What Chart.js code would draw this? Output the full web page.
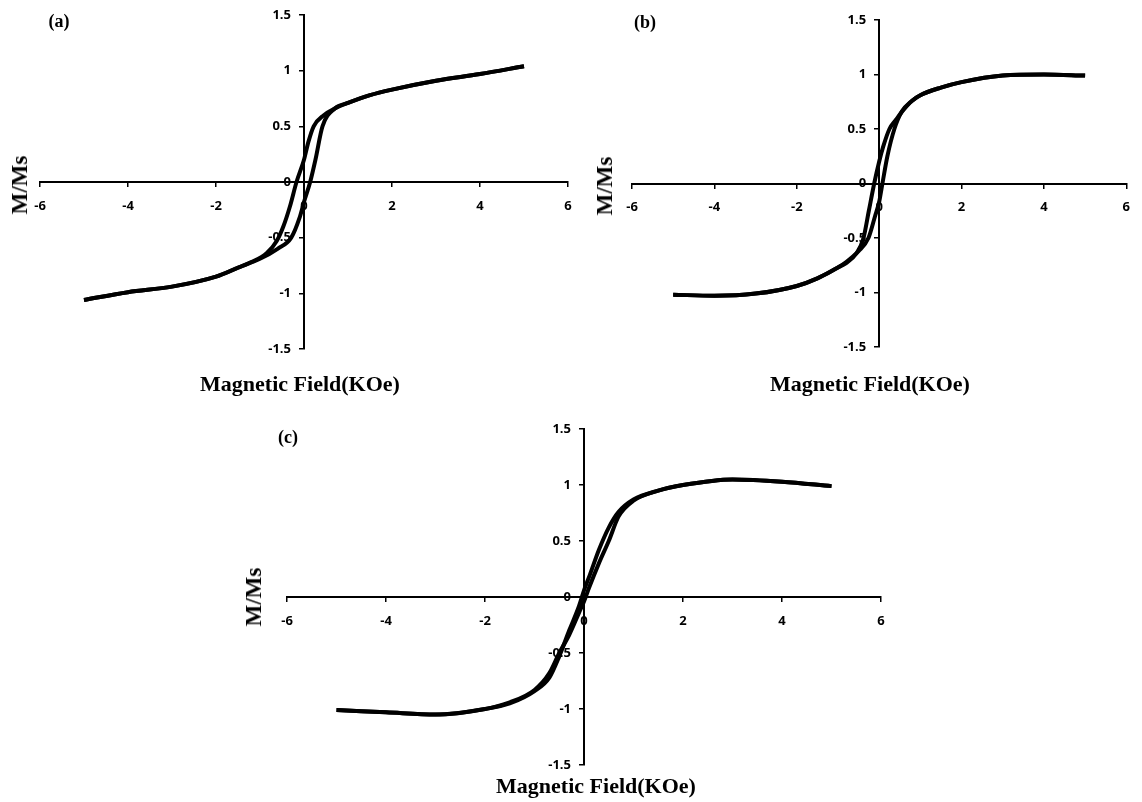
<!DOCTYPE html>
<html>
<head>
<meta charset="utf-8">
<script src="https://cdn.jsdelivr.net/npm/chart.js@4.4.0/dist/chart.umd.min.js"></script>
<style>
html, body { margin: 0; padding: 0; background: #fff; }
#wrap { position: relative; width: 1142px; height: 802px; overflow: hidden; }
canvas { position: absolute; left: 0; top: 0; }
.lbl {
    position: absolute;
    font-family: "Liberation Serif", "Times New Roman", serif;
    font-weight: bold;
    color: #000;
    white-space: nowrap;
    transform: translate(-50%, -50%);
}
.rot { transform: translate(-50%, -50%) rotate(-90deg); }
</style>
</head>
<body>
<div id="wrap">
    <canvas id="chartA" width="1142" height="802"></canvas>
    <canvas id="chartB" width="1142" height="802"></canvas>
    <canvas id="chartC" width="1142" height="802"></canvas>

    <div class="lbl" style="left:59px; top:21px; font-size:18px">(a)</div>
    <div class="lbl" style="left:645px; top:22px; font-size:18px">(b)</div>
    <div class="lbl" style="left:288px; top:437px; font-size:18px">(c)</div>

    <div class="lbl" style="left:300px; top:384px; font-size:22px">Magnetic Field(KOe)</div>
    <div class="lbl" style="left:870px; top:384px; font-size:22px">Magnetic Field(KOe)</div>
    <div class="lbl" style="left:596px; top:786px; font-size:22px">Magnetic Field(KOe)</div>

    <div class="lbl rot" style="left:20px; top:185px; font-size:23px">M/Ms</div>
    <div class="lbl rot" style="left:605px; top:186px; font-size:23px">M/Ms</div>
    <div class="lbl rot" style="left:254px; top:597px; font-size:23px">M/Ms</div>
</div>

<script>
// (a) field (kOe) and M/Ms, descending branch then ascending branch
const aDownH = [5, 4, 3, 2, 1.5, 1, 0.7, 0.45, 0.22, 0.1, 0, -0.17, -0.32, -0.47, -0.62, -0.85, -1.2, -1.5, -2, -3, -4, -5];
const aDownM = [1.04, 0.97, 0.91, 0.83, 0.78, 0.71, 0.66, 0.6, 0.5, 0.36, 0.2, 0, -0.22, -0.4, -0.53, -0.64, -0.72, -0.77, -0.85, -0.94, -0.99, -1.06];
const aUpH = [-5, -4, -3, -2, -1.5, -1, -0.6, -0.29, -0.1, 0, 0.14, 0.26, 0.42, 0.7, 1, 1.5, 2, 3, 4, 5];
const aUpM = [-1.06, -0.99, -0.94, -0.85, -0.77, -0.69, -0.6, -0.5, -0.32, -0.18, 0, 0.2, 0.5, 0.66, 0.71, 0.78, 0.83, 0.91, 0.97, 1.04];

// (b)
const bDownH = [5, 4, 3, 2, 1.5, 1, 0.8, 0.6, 0.4, 0.25, 0.1, 0, -0.12, -0.25, -0.38, -0.55, -0.8, -1, -1.5, -2, -3, -4, -5];
const bDownM = [0.99, 1.0, 0.99, 0.93, 0.88, 0.81, 0.76, 0.68, 0.58, 0.5, 0.34, 0.2, 0, -0.25, -0.5, -0.64, -0.73, -0.77, -0.87, -0.94, -1.01, -1.03, -1.02];
const bUpH = [-5, -4, -3, -2, -1.5, -1, -0.8, -0.5, -0.26, -0.1, 0, 0.08, 0.2, 0.37, 0.55, 0.8, 1, 1.5, 2, 3, 4, 5];
const bUpM = [-1.02, -1.03, -1.01, -0.94, -0.87, -0.77, -0.72, -0.62, -0.5, -0.3, -0.17, 0, 0.25, 0.5, 0.66, 0.76, 0.81, 0.88, 0.93, 0.99, 1.0, 0.99];

// (c)
const cDownH = [5, 4, 3, 2, 1.5, 1, 0.7, 0.5, 0.3, 0.12, 0, -0.1, -0.3, -0.5, -0.7, -1, -1.5, -2, -3, -4, -5];
const cDownM = [0.99, 1.03, 1.05, 1.0, 0.95, 0.87, 0.76, 0.62, 0.42, 0.2, 0.06, -0.08, -0.3, -0.53, -0.72, -0.84, -0.95, -1.0, -1.05, -1.03, -1.01];
const cUpH = [-5, -4, -3, -2, -1.5, -1, -0.7, -0.5, -0.3, -0.1, 0, 0.1, 0.3, 0.5, 0.7, 1, 1.5, 2, 3, 4, 5];
const cUpM = [-1.01, -1.03, -1.05, -1.0, -0.94, -0.83, -0.68, -0.5, -0.34, -0.14, -0.04, 0.08, 0.3, 0.5, 0.72, 0.86, 0.95, 1.0, 1.05, 1.03, 0.99];

const W = 1142, H = 802;

function toPoints(hs, ms) {
    return hs.map((h, i) => ({ x: h, y: ms[i] }));
}

function branch(hs, ms) {
    return {
        data: toPoints(hs, ms),
        showLine: true,
        borderColor: "#000",
        borderWidth: 4,
        pointRadius: 0,
        cubicInterpolationMode: "monotone",
        fill: false
    };
}

// y labels sit to the left of the crossing axis, with a gap like the original
const yLabelGap = {
    id: "yLabelGap",
    beforeDraw(chart) {
        const items = chart.scales.y.getLabelItems();
        if (items._shifted) return;
        items._shifted = true;
        items.forEach(it => { it.options.translation[0] -= 13; });
    }
};

const tickFont = { family: "'Open Sans', 'Liberation Sans', sans-serif", weight: "bold", size: 13 };

function buildChart(id, box, downH, downM, upH, upM) {
    const ctx = document.getElementById(id).getContext("2d");
    return new Chart(ctx, {
        type: "scatter",
        data: {
            datasets: [branch(downH, downM), branch(upH, upM)]
        },
        plugins: [yLabelGap],
        options: {
            responsive: false,
            animation: false,
            devicePixelRatio: 1,
            layout: {
                padding: { left: box.left, right: W - box.right, top: box.top, bottom: H - box.bottom }
            },
            plugins: { legend: { display: false }, tooltip: { enabled: false } },
            scales: {
                x: {
                    type: "linear",
                    min: -6,
                    max: 6,
                    position: { y: 0 },
                    ticks: { stepSize: 2, autoSkip: false, maxRotation: 0, color: "#000", font: tickFont, padding: 12 },
                    grid: { drawOnChartArea: false, drawTicks: true, tickLength: 4, color: "#000", lineWidth: 1.5 },
                    border: { display: true, color: "#000", width: 2 }
                },
                y: {
                    type: "linear",
                    min: -1.5,
                    max: 1.5,
                    position: { x: 0 },
                    ticks: {
                        stepSize: 0.5, autoSkip: false, color: "#000", font: tickFont,
                        callback: v => String(Number(v))
                    },
                    grid: { drawOnChartArea: false, drawTicks: true, tickLength: 4, color: "#000", lineWidth: 1.5 },
                    border: { display: true, color: "#000", width: 2 }
                }
            }
        }
    });
}

buildChart("chartA", { left: 40, right: 568, top: 15, bottom: 349 }, aDownH, aDownM, aUpH, aUpM);
buildChart("chartB", { left: 632, right: 1138, top: 20, bottom: 347 }, bDownH, bDownM, bUpH, bUpM);
buildChart("chartC", { left: 287, right: 881, top: 429, bottom: 765 }, cDownH, cDownM, cUpH, cUpM);
</script>
</body>
</html>
